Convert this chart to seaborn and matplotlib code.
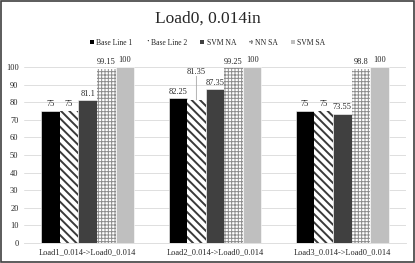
import matplotlib
matplotlib.use("Agg")
import matplotlib.pyplot as plt
import seaborn as sns
import pandas as pd
from matplotlib.patches import Patch

categories = ["Load1_0.014->Load0_0.014", "Load2_0.014->Load0_0.014", "Load3_0.014->Load0_0.014"]
series = ["Base Line 1", "Base Line 2", "SVM NA", "NN SA", "SVM SA"]
base_line_1 = [75, 82.25, 75]
base_line_2 = [75, 81.35, 75]
svm_na = [81.1, 87.35, 73.55]
nn_sa = [99.15, 99.25, 98.8]
svm_sa = [100, 100, 100]
y_ticks = list(range(0, 101, 10))

values = [base_line_1, base_line_2, svm_na, nn_sa, svm_sa]
rows = []
for s, vals in zip(series, values):
    for c, v in zip(categories, vals):
        rows.append({"cat": c, "series": s, "val": v})
df = pd.DataFrame(rows)

sns.set_style("white")
plt.rcParams["font.family"] = ["Liberation Serif", "DejaVu Serif"]

fig = plt.figure(figsize=(4.15, 2.63), dpi=100)
ax = fig.add_axes([0.058, 0.076, 0.920, 0.669])

facecolors = ["#000000", "#ffffff", "#404040", "#ffffff", "#bfbfbf"]
hatches = [None, "\\\\\\\\", None, "+++++", None]
hatchcolors = [None, "#3a3a3a", None, "#8c8c8c", None]
hatch_lws = [None, 1.4, None, 0.7, None]

sns.barplot(data=df, x="cat", y="val", hue="series", order=categories,
            hue_order=series, palette=facecolors, width=0.73, ax=ax,
            legend=False, saturation=1)


def style_patch(p, i):
    p.set_facecolor(facecolors[i])
    if hatches[i]:
        p.set_hatch(hatches[i])
        p.set_edgecolor(hatchcolors[i])
        p.set_linewidth(0)
        try:
            p.set_hatch_linewidth(hatch_lws[i])
        except AttributeError:
            p._hatch_linewidth = hatch_lws[i]
    else:
        p.set_edgecolor("white")
        p.set_linewidth(0.4)


# raised label (points) for the crowded label in the second group
label_pads = {(1, 1): 17}

for i, cont in enumerate(ax.containers):
    for p in cont.patches:
        style_patch(p, i)
    labels = ["" if (i, j) in label_pads else f"{v:g}" for j, v in enumerate(values[i])]
    ax.bar_label(cont, labels=labels, padding=2, fontsize=6, clip_on=False)
    for j, v in enumerate(values[i]):
        if (i, j) in label_pads:
            p = cont.patches[j]
            xc = p.get_x() + p.get_width() / 2
            pad = label_pads[(i, j)]
            ax.annotate(f"{v:g}", xy=(xc, v), xytext=(0, pad), textcoords="offset points",
                        ha="center", va="bottom", fontsize=6, annotation_clip=False)
            ax.annotate("", xy=(xc, v), xytext=(0, pad),
                        textcoords="offset points", annotation_clip=False,
                        arrowprops=dict(arrowstyle="-", color="#a6a6a6", lw=0.6,
                                        shrinkA=0, shrinkB=0))

ax.set_ylim(0, 100)
ax.set_yticks(y_ticks)
ax.tick_params(axis="y", labelsize=6, length=0, pad=4)
ax.tick_params(axis="x", labelsize=6, length=0, pad=4)
ax.yaxis.grid(True, color="#d9d9d9", linewidth=0.6)
ax.set_axisbelow(True)
for s in ["top", "right", "left"]:
    ax.spines[s].set_visible(False)
ax.spines["bottom"].set_color("#d9d9d9")
ax.spines["bottom"].set_linewidth(0.6)
ax.set_xlabel("")
ax.set_ylabel("")

handles = []
for i, s in enumerate(series):
    h = Patch(facecolor=facecolors[i], hatch=hatches[i] if hatches[i] else None,
              edgecolor=hatchcolors[i] if hatches[i] else facecolors[i], linewidth=0)
    handles.append(h)
fig.legend(handles=handles, labels=series, loc="center", bbox_to_anchor=(0.5, 0.838),
           ncol=5, frameon=False, fontsize=5.5, handlelength=0.5, handleheight=0.5,
           handletextpad=0.3, columnspacing=1.7)

fig.suptitle("Load0, 0.014in", y=0.96, fontsize=12.5)

border = plt.Rectangle((0.002, 0.003), 0.995, 0.993, transform=fig.transFigure,
                       fill=False, edgecolor="#404040", linewidth=1.2)
fig.patches.append(border)

fig.savefig("out.png", dpi=100)
